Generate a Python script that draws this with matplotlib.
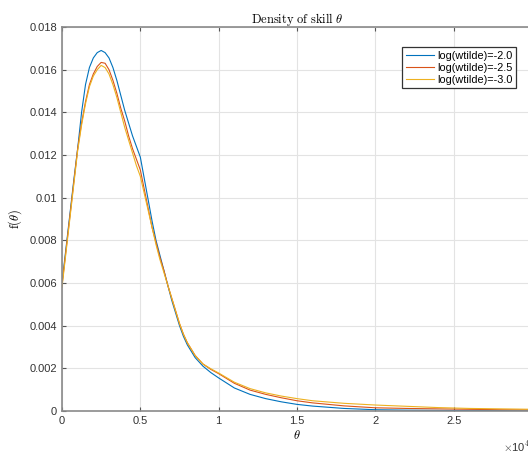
import matplotlib
matplotlib.use("Agg")
import matplotlib.pyplot as plt

plt.rcParams['font.family'] = ['Liberation Sans', 'DejaVu Sans']
plt.rcParams['mathtext.fontset'] = 'cm'

# skill grid, in units of 1e4
theta = [0, 0.025, 0.05, 0.075, 0.1, 0.125, 0.15, 0.175, 0.2, 0.225, 0.25, 0.275,
         0.3, 0.325, 0.35, 0.375, 0.4, 0.425, 0.45, 0.475, 0.5, 0.525, 0.55, 0.575,
         0.6, 0.625, 0.65, 0.675, 0.7, 0.725, 0.75, 0.775, 0.8, 0.825, 0.85, 0.875,
         0.9, 0.95, 1.0, 1.1, 1.2, 1.3, 1.4, 1.5, 1.6, 1.8, 2.0, 2.2, 2.4, 2.6, 2.8, 3.0]

dens_w20 = [0.0060, 0.0076, 0.0092, 0.0108, 0.0123, 0.0140, 0.0153, 0.0161, 0.01655,
            0.0168, 0.0169, 0.0168, 0.01655, 0.0161, 0.0155, 0.0148, 0.0141, 0.0135,
            0.0129, 0.0124, 0.0119, 0.0109, 0.0099, 0.0089, 0.0080, 0.0073, 0.0066,
            0.0059, 0.0052, 0.0046, 0.0040, 0.0035, 0.0031, 0.0028, 0.0025, 0.0023,
            0.0021, 0.0018, 0.00155, 0.00108, 0.00078, 0.00058, 0.00043,
            0.00031, 0.00023, 0.00012, 0.00006, 0.00004, 0.00003, 0.00002, 0.00002, 0.00001]

dens_w25 = [0.0059, 0.0075, 0.0091, 0.0107, 0.0123, 0.0135, 0.0145, 0.0153, 0.0158,
            0.01615, 0.01634, 0.0163, 0.0160, 0.0155, 0.0149, 0.0142, 0.0136, 0.0129,
            0.0123, 0.0118, 0.0113, 0.0104, 0.0095, 0.0086, 0.0079, 0.0072, 0.0066,
            0.0059, 0.0053, 0.0047, 0.0041, 0.0036, 0.0032, 0.0029, 0.0026, 0.0024,
            0.0022, 0.00195, 0.00175, 0.00130, 0.00098, 0.00078, 0.00062,
            0.00048, 0.00038, 0.00024, 0.00015, 0.00012, 0.00010, 0.00008, 0.00006, 0.00005]

dens_w30 = [0.0058, 0.0074, 0.0090, 0.0106, 0.0122, 0.0134, 0.0144, 0.0152, 0.0157,
            0.0160, 0.0162, 0.0161, 0.0158, 0.0153, 0.0147, 0.0140, 0.0133, 0.0127,
            0.0121, 0.0115, 0.0110, 0.0102, 0.0094, 0.0086, 0.0078, 0.0071, 0.0065,
            0.0059, 0.0053, 0.0047, 0.0041, 0.0036, 0.0032, 0.0029, 0.0026, 0.0024,
            0.0022, 0.00198, 0.00178, 0.00135, 0.00105, 0.00085, 0.00070,
            0.00058, 0.00048, 0.00036, 0.00028, 0.00022, 0.00016, 0.00012, 0.00010, 0.00008]

labels = ['log(wtilde)=-2.0', 'log(wtilde)=-2.5', 'log(wtilde)=-3.0']
colors = ['#0072BD', '#D95319', '#EDB120']

fig = plt.figure(figsize=(5.28, 4.53), dpi=100)
ax = fig.add_axes([62 / 528, 42 / 453, 470 / 528, 384 / 453])

for y, lab, c in zip([dens_w20, dens_w25, dens_w30], labels, colors):
    ax.plot(theta, y, color=c, lw=0.8, label=lab)

ax.set_xlim(0, 3)
ax.set_ylim(0, 0.018)
# the tick at 3 falls just past the right edge of the figure, so no label for it
ax.set_xticks([0, 0.5, 1, 1.5, 2, 2.5, 3])
ax.set_xticklabels(['0', '0.5', '1', '1.5', '2', '2.5', ''])
ax.set_yticks([0, 0.002, 0.004, 0.006, 0.008, 0.01, 0.012, 0.014, 0.016, 0.018])
ax.set_yticklabels(['0', '0.002', '0.004', '0.006', '0.008', '0.01', '0.012',
                    '0.014', '0.016', '0.018'])

ax.grid(True, color='#e3e3e3', lw=0.8)
ax.set_axisbelow(True)
for s in ax.spines.values():
    s.set_color('#8a8a8a')
    s.set_linewidth(1.2)
ax.tick_params(direction='in', length=3, width=0.8, color='#555555',
               labelsize=8, labelcolor='#333333', top=True, right=True)

ax.set_title(r'$\mathrm{Density\ of\ skill}\ \theta$', fontsize=9, pad=3)
ax.set_xlabel(r'$\theta$', fontsize=9, labelpad=2)
ax.set_ylabel(r'$\mathrm{f}(\theta)$', fontsize=9, labelpad=4)
fig.text(503 / 528, 1 - 447 / 453, r'$\times\mathdefault{10}^{4}$', fontsize=8,
         color='#333333', va='center', ha='left')

leg = ax.legend(loc='upper left', bbox_to_anchor=(335 / 470, 1 - 15 / 384),
                fontsize=7.8, handlelength=2.6, handletextpad=0.3,
                borderpad=0.3, labelspacing=0.2, fancybox=False, framealpha=1)
leg.get_frame().set_edgecolor('#333333')
leg.get_frame().set_linewidth(0.9)

fig.savefig('out.png', dpi=100)
